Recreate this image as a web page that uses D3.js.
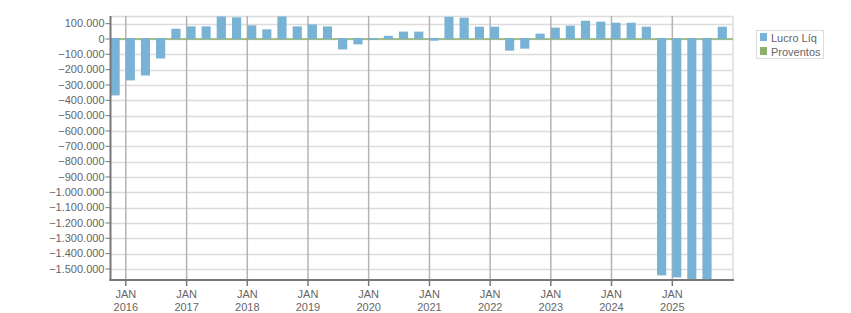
<!DOCTYPE html>
<html>
<head>
<meta charset="utf-8">
<script src="https://cdn.jsdelivr.net/npm/d3@7"></script>
<style>
  body { margin: 0; background: #fff; }
  text { font-family: "Liberation Sans", Arial, sans-serif; font-size: 11px; fill: #666; }
</style>
</head>
<body>
<div id="chart"></div>
<script>
// trimestres, de out/2015 a out/2025
const quarters = ["2015-10","2016-01","2016-04","2016-07","2016-10","2017-01","2017-04","2017-07","2017-10",
  "2018-01","2018-04","2018-07","2018-10","2019-01","2019-04","2019-07","2019-10",
  "2020-01","2020-04","2020-07","2020-10","2021-01","2021-04","2021-07","2021-10",
  "2022-01","2022-04","2022-07","2022-10","2023-01","2023-04","2023-07","2023-10",
  "2024-01","2024-04","2024-07","2024-10","2025-01","2025-04","2025-07","2025-10"];
const lucroLiq = [-368000,-270000,-238000,-127000,67000,82000,82000,147000,141000,
  89000,63000,147000,82000,95000,82000,-68000,-35000,
  -5000,21000,48000,48000,-11000,145000,139000,80000,
  80000,-76000,-63000,35000,74000,87000,119000,113000,
  106000,106000,80000,-1542000,-1555000,-1600000,-1600000,80000];
const proventos = quarters.map(() => 0);
const yTicks = d3.range(-1500000, 100001, 100000);
const tickYears = d3.range(2016, 2026);
const seriesNames = ["Lucro Líq", "Proventos"];
const seriesColors = ["#78b2d5", "#8cb06d"];

const width = 851, height = 313;
const mLeft = 110.5, mRight = 733, mTop = 16, mBottom = 280;

const parse = d3.timeParse("%Y-%m");
const dates = quarters.map(parse);

const fmt = d3.formatLocale({decimal: ",", thousands: ".", grouping: [3], currency: ["R$", ""]}).format(",.0f");

const x = d3.scaleTime()
    .domain([new Date(2015, 9, 1), new Date(2026, 0, 1)])
    .range([mLeft, mRight]);
const y = d3.scaleLinear()
    .domain([-1572000, 150000])
    .range([mBottom, mTop]);

const svg = d3.select("#chart").append("svg")
    .attr("width", width)
    .attr("height", height);

svg.append("clipPath").attr("id", "plot")
  .append("rect").attr("x", mLeft).attr("y", mTop).attr("width", mRight - mLeft).attr("height", mBottom - mTop);

// grade horizontal
svg.append("g").selectAll("line").data(yTicks.concat([150000])).enter().append("line")
    .attr("x1", mLeft).attr("x2", mRight)
    .attr("y1", d => Math.round(y(d)) + 0.5).attr("y2", d => Math.round(y(d)) + 0.5)
    .attr("stroke", "#dcdcdc").attr("stroke-width", 1.5);

svg.append("line")
    .attr("x1", mRight).attr("x2", mRight).attr("y1", mTop).attr("y2", mBottom)
    .attr("stroke", "#dcdcdc").attr("stroke-width", 1.5);

// grade vertical (janeiro)
const yearDates = tickYears.map(yr => new Date(yr, 0, 1));
svg.append("g").selectAll("line").data(yearDates).enter().append("line")
    .attr("x1", d => x(d)).attr("x2", d => x(d))
    .attr("y1", mTop).attr("y2", mBottom)
    .attr("stroke", "#b4b4b4").attr("stroke-width", 1.5);

const plot = svg.append("g").attr("clip-path", "url(#plot)");

// proventos (zero) como linha fina
plot.append("line")
    .attr("x1", mLeft).attr("x2", mRight)
    .attr("y1", y(0)).attr("y2", y(0))
    .attr("stroke", seriesColors[1]).attr("stroke-width", 1.5);

plot.selectAll("rect.lucro").data(lucroLiq).enter().append("rect")
    .attr("class", "lucro")
    .attr("fill", seriesColors[0])
    .attr("x", (d, i) => x(dates[i]))
    .attr("width", (d, i) => (x(d3.timeMonth.offset(dates[i], 3)) - x(dates[i])) * 0.6)
    .attr("y", d => d >= 0 ? y(d) : y(0) - 1)
    .attr("height", d => Math.abs(y(d) - y(0)) + (d >= 0 ? 0 : 1));

// eixo y
const yAxis = svg.append("g");
yAxis.append("line")
    .attr("x1", mLeft).attr("x2", mLeft).attr("y1", mTop).attr("y2", mBottom + 1)
    .attr("stroke", "#777").attr("stroke-width", 2);
yAxis.selectAll("line.tk").data(yTicks).enter().append("line")
    .attr("class", "tk")
    .attr("x1", mLeft - 5).attr("x2", mLeft)
    .attr("y1", d => y(d)).attr("y2", d => y(d))
    .attr("stroke", "#777").attr("stroke-width", 1);
yAxis.selectAll("text").data(yTicks).enter().append("text")
    .attr("x", mLeft - 6).attr("y", d => y(d)).attr("dy", "0.34em")
    .attr("text-anchor", "end")
    .text(d => fmt(d));

// eixo x
const xAxis = svg.append("g");
xAxis.append("line")
    .attr("x1", mLeft - 1).attr("x2", mRight + 1).attr("y1", mBottom).attr("y2", mBottom)
    .attr("stroke", "#777").attr("stroke-width", 2);
xAxis.selectAll("line.tk").data(yearDates).enter().append("line")
    .attr("class", "tk")
    .attr("x1", d => x(d)).attr("x2", d => x(d))
    .attr("y1", mBottom).attr("y2", mBottom + 6)
    .attr("stroke", "#777").attr("stroke-width", 1.5);
const lbl = xAxis.selectAll("text").data(yearDates).enter().append("text")
    .attr("text-anchor", "middle");
lbl.append("tspan").attr("x", d => x(d)).attr("y", 298).text("JAN");
lbl.append("tspan").attr("x", d => x(d)).attr("y", 311).text(d => d.getFullYear());

// legenda
const lg = svg.append("g");
lg.append("rect")
    .attr("x", 756.5).attr("y", 30.5).attr("width", 67).attr("height", 28)
    .attr("fill", "#fff").attr("stroke", "#dcdcdc");
seriesNames.forEach((name, i) => {
  lg.append("rect").attr("x", 760).attr("y", 33 + i * 14).attr("width", 7).attr("height", 8)
      .attr("fill", seriesColors[i]);
  lg.append("text").attr("x", 771).attr("y", 42 + i * 14).text(name);
});
</script>
</body>
</html>
